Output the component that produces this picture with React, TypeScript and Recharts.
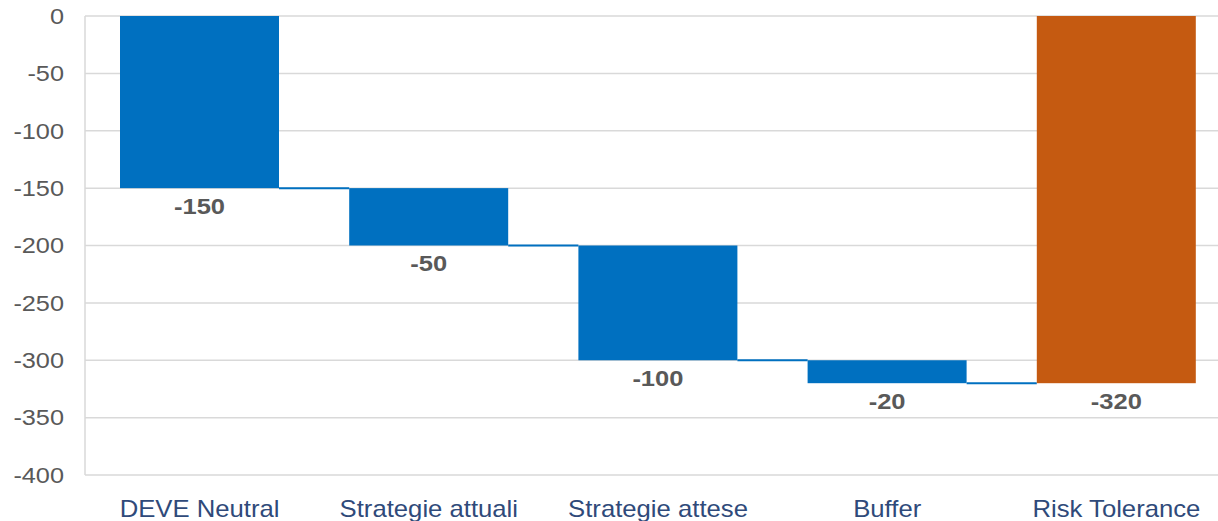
import { BarChart, Bar, XAxis, YAxis, CartesianGrid, LabelList, Cell } from "recharts";

const categories = ["DEVE Neutral", "Strategie attuali", "Strategie attese", "Buffer", "Risk Tolerance"];
const deltas = [-150, -50, -100, -20, -320];
const isTotal = [false, false, false, false, true];
const yTicks = [0, -50, -100, -150, -200, -250, -300, -350, -400];

const BLUE = "#0070C0";
const ORANGE = "#C55A11";

const CHART_W = 1231;
const CHART_H = 521;
const Y_AXIS_W = 85;
const BAR_SIZE = 159;
const band = (CHART_W - Y_AXIS_W) / categories.length;
const gap = band - BAR_SIZE;

// running totals -> [low, high] ranges for a waterfall
let running = 0;
const data = categories.map((name, i) => {
  let start = running;
  if (isTotal[i]) start = 0;
  const end = isTotal[i] ? deltas[i] : start + deltas[i];
  running = end;
  return { name, delta: deltas[i], range: [Math.min(start, end), Math.max(start, end)] };
});

const WaterfallShape = (props: any) => {
  const { x, y, width, height, index, fill } = props;
  const top = Math.min(y, y + height);
  const bottom = Math.max(y, y + height);
  return (
    <g>
      <rect x={x} y={top} width={width} height={bottom - top} fill={fill} />
      {index < categories.length - 1 && (
        <line x1={x + width} x2={x + width + gap} y1={bottom} y2={bottom} stroke={BLUE} strokeWidth={2} />
      )}
    </g>
  );
};

const renderLabel = (props: any) => {
  const { x, y, width, height, value } = props;
  const bottom = Math.max(y, y + height);
  return (
    <text
      transform={`translate(${x + width / 2},${bottom + 20}) scale(1.16,1)`}
      textAnchor="middle"
      dominantBaseline="middle"
      fill="#595959"
      fontSize={22}
      fontWeight="bold"
    >
      {value}
    </text>
  );
};

const YTick = (props: any) => {
  const { x, y, payload } = props;
  return (
    <text transform={`translate(${x},${y + 2}) scale(1.15,1)`} textAnchor="end" dominantBaseline="middle" fill="#595959" fontSize={22}>
      {payload.value}
    </text>
  );
};

const XTick = (props: any) => {
  const { x, y, payload } = props;
  return (
    <text transform={`translate(${x},${y + 42}) scale(1.07,1)`} textAnchor="middle" fill="#2F4A7A" fontSize={24}>
      {payload.value}
    </text>
  );
};

export default function App() {
  return (
    <div style={{ position: "absolute", left: 0, top: 0, width: 1218, height: CHART_H, overflow: "hidden", background: "#fff", fontFamily: "'Liberation Sans', Arial, sans-serif" }}>
      <BarChart width={CHART_W} height={CHART_H} data={data} margin={{ top: 16, right: 0, bottom: 0, left: 0 }}>
        <CartesianGrid vertical={false} stroke="#d9d9d9" strokeWidth={1.5} />
        <XAxis
          dataKey="name"
          height={46}
          tickLine={false}
          axisLine={false}
          tickSize={0}
          tickMargin={0}
          tick={<XTick />}
          interval={0}
        />
        <YAxis
          width={Y_AXIS_W}
          domain={[-400, 0]}
          ticks={yTicks}
          tickLine={false}
          tickSize={0}
          tickMargin={21}
          axisLine={{ stroke: "#d9d9d9", strokeWidth: 1.5 }}
          tick={<YTick />}
        />
        <Bar dataKey="range" barSize={BAR_SIZE} shape={WaterfallShape} isAnimationActive={false}>
          {data.map((d, i) => (
            <Cell key={d.name} fill={isTotal[i] ? ORANGE : BLUE} />
          ))}
          <LabelList dataKey="delta" content={renderLabel} />
        </Bar>
      </BarChart>
    </div>
  );
}
